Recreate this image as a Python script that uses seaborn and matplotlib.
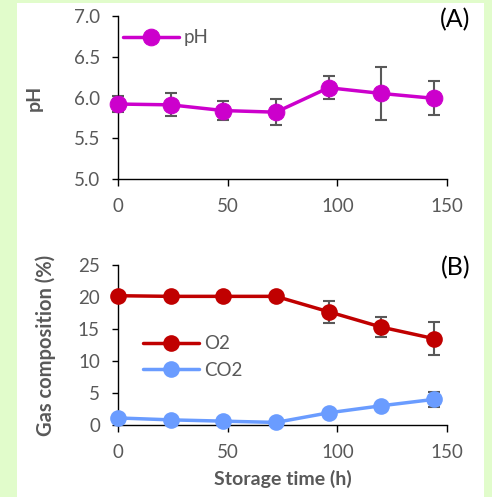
import numpy as np
import pandas as pd
import matplotlib
matplotlib.use("Agg")
import matplotlib.pyplot as plt
from matplotlib.patches import Rectangle
import seaborn as sns

# Data
time_h = [0, 24, 48, 72, 96, 120, 144]
ph_mean = [5.92, 5.91, 5.84, 5.82, 6.12, 6.05, 5.99]
ph_err = [0.10, 0.14, 0.12, 0.16, 0.14, 0.32, 0.21]
o2_mean = [20.2, 20.1, 20.1, 20.1, 17.7, 15.3, 13.5]
o2_err = [0.0, 0.0, 0.0, 0.0, 1.7, 1.6, 2.6]
co2_mean = [1.1, 0.8, 0.6, 0.4, 1.9, 3.0, 4.0]
co2_err = [0.0, 0.0, 0.0, 0.0, 0.2, 0.3, 1.2]

ph_df = pd.DataFrame({"time": time_h, "value": ph_mean, "err": ph_err})
gas_df = pd.concat([
    pd.DataFrame({"time": time_h, "value": o2_mean, "err": o2_err, "gas": "O2"}),
    pd.DataFrame({"time": time_h, "value": co2_mean, "err": co2_err, "gas": "CO2"}),
])

sns.set_style("ticks")
plt.rcParams["font.family"] = ["Lato", "DejaVu Sans"]

PINK = "#cc00cc"
RED = "#c00000"
BLUE = "#6a9cff"
ERR = "#595959"
TXT = "#595959"
TICK = 13.5

fig = plt.figure(figsize=(4.92, 4.97), dpi=100)
fig.patch.set_facecolor("#e1fccb")
fig.patches.append(Rectangle((17 / 492, 0), (484 - 17) / 492, 1 - 3 / 497,
                             transform=fig.transFigure, facecolor="white",
                             edgecolor="none", zorder=-10))

ax1 = fig.add_axes([0.2398, 0.6398, 0.6687, 0.328])
ax2 = fig.add_axes([0.2398, 0.1449, 0.6687, 0.3219])


def style(ax):
    ax.set_facecolor("none")
    sns.despine(ax=ax)
    for s in ["left", "bottom"]:
        ax.spines[s].set_color("black")
        ax.spines[s].set_linewidth(1.0)
    ax.tick_params(axis="both", labelsize=TICK, colors="black", labelcolor=TXT,
                   length=5, width=1.0)
    ax.tick_params(axis="y", length=4, pad=9)
    ax.tick_params(axis="x", pad=9)
    ax.set_xlim(0, 150)
    ax.set_xticks([0, 50, 100, 150])


# Panel A
sns.lineplot(data=ph_df, x="time", y="value", ax=ax1, color=PINK, marker="o",
             markersize=12, linewidth=2.5, markeredgecolor=PINK, label="pH",
             clip_on=False, zorder=3)
ax1.errorbar(ph_df["time"], ph_df["value"], yerr=ph_df["err"], fmt="none",
             ecolor=ERR, elinewidth=1.5, capsize=4, capthick=1.5, zorder=2,
             clip_on=False)
style(ax1)
ax1.set_ylim(5.0, 7.0)
ax1.set_yticks(np.arange(5.0, 7.01, 0.5))
ax1.set_yticklabels([f"{v:.1f}" for v in np.arange(5.0, 7.01, 0.5)])
ax1.set_xlabel("")
ax1.set_ylabel("pH", fontsize=14, fontweight="bold", color=TXT, labelpad=22)
ax1.legend(loc="upper left", bbox_to_anchor=(-0.025, 1.0), frameon=False,
           fontsize=TICK, handlelength=3.0, handletextpad=0.25, labelcolor=TXT,
           borderaxespad=0.3)
fig.text(470 / 492, 1 - 8 / 497, "(A)", fontsize=18, ha="right", va="top",
         color="black")

# Panel B
sns.lineplot(data=gas_df, x="time", y="value", hue="gas", ax=ax2,
             palette={"O2": RED, "CO2": BLUE}, marker="o", markersize=12,
             linewidth=2.5, markeredgewidth=0, clip_on=False, zorder=3)
for gas, col in [("O2", RED), ("CO2", BLUE)]:
    sub = gas_df[gas_df["gas"] == gas]
    mask = sub["err"] > 0
    ax2.errorbar(sub["time"][mask], sub["value"][mask], yerr=sub["err"][mask],
                 fmt="none", ecolor=ERR, elinewidth=1.5, capsize=4,
                 capthick=1.5, zorder=2, clip_on=False)
style(ax2)
ax2.set_ylim(0, 25)
ax2.set_yticks([0, 5, 10, 15, 20, 25])
ax2.set_xlabel("Storage time (h)", fontsize=14, fontweight="bold", color=TXT,
               labelpad=6)
ax2.set_ylabel("Gas composition (%)", fontsize=14.5, fontweight="bold",
               color=TXT, labelpad=16)
leg = ax2.legend(loc="upper left", bbox_to_anchor=(0.025, 0.665), frameon=False,
                 fontsize=TICK, handlelength=3.0, handletextpad=0.25,
                 labelcolor=TXT, labelspacing=0.5)
fig.text(470 / 492, 1 - 256 / 497, "(B)", fontsize=18, ha="right", va="top",
         color="black")

fig.savefig("out.png", dpi=100)
